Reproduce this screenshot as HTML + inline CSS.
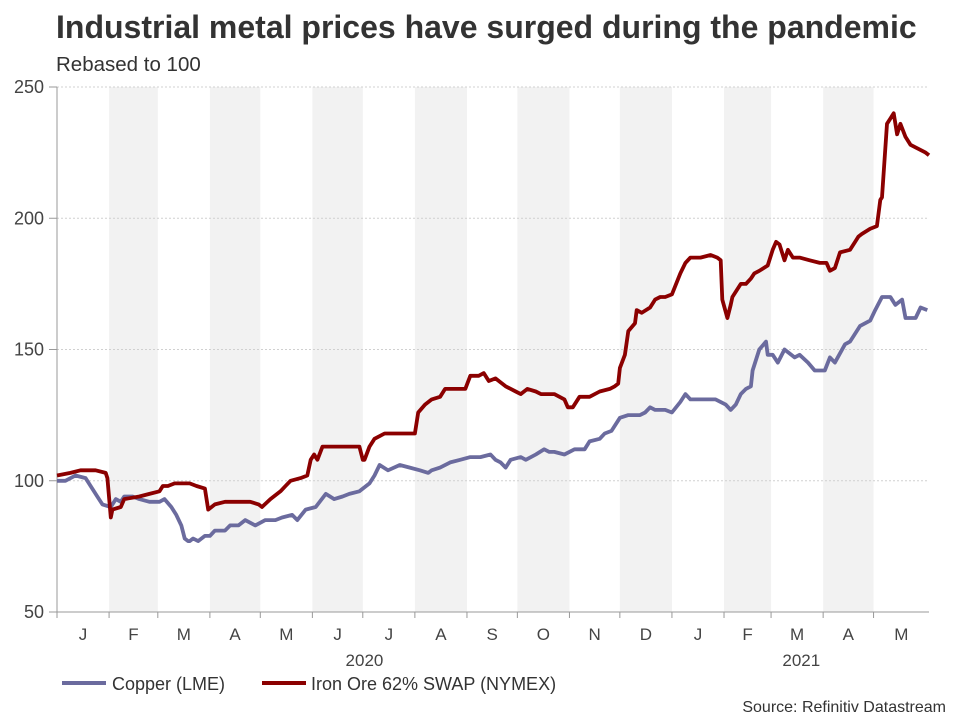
<!DOCTYPE html>
<html><head><meta charset="utf-8"><style>
body{margin:0;background:#fff;font-family:"Liberation Sans",Arial,sans-serif;}
svg text{font-family:"Liberation Sans",Arial,sans-serif;}
</style></head><body>
<svg id="chart" width="960" height="720" viewBox="0 0 960 720" xmlns="http://www.w3.org/2000/svg">
<text x="56" y="38" font-size="32" font-weight="bold" fill="#333">Industrial metal prices have surged during the pandemic</text>
<text x="56" y="71" font-size="20.5" fill="#333">Rebased to 100</text>
<g id="bands"></g><g id="grid"></g><g id="axes"></g><g id="series"></g>
<g>
<line x1="62" y1="683" x2="106" y2="683" stroke="#6b6b9e" stroke-width="4"/>
<text x="112" y="690" font-size="18" fill="#333">Copper (LME)</text>
<line x1="262" y1="683" x2="306" y2="683" stroke="#8b0000" stroke-width="4"/>
<text x="311" y="690" font-size="18" fill="#333">Iron Ore 62% SWAP (NYMEX)</text>
</g>
<text x="946" y="712" text-anchor="end" font-size="16" fill="#333">Source: Refinitiv Datastream</text>
</svg>
<script>
const monthLabels=["J","F","M","A","M","J","J","A","S","O","N","D","J","F","M","A","M"];
const monthStarts=[0,31,60,91,121,152,182,213,244,274,305,335,366,397,425,456,486,519];
const yTicks=[50,100,150,200,250];
const yearLabels=["2020","2021"];
const yearCenters=[183,443];
const ironDays=[0,8,14,23,29,30,32,33,38,40,49,55,61,63,66,70,76,79,83,88,90,94,100,106,115,120,122,127,133,136,139,145,149,151,153,155,158,168,177,180,182,183,186,189,195,204,213,215,219,223,228,231,237,243,246,251,254,257,261,267,273,276,280,285,288,296,302,304,307,311,317,323,329,332,334,335,338,340,344,345,348,353,356,359,362,366,371,374,377,383,389,393,395,396,399,401,402,407,410,413,415,418,423,426,428,430,433,435,438,442,448,454,458,460,463,466,472,475,477,479,484,488,490,491,494,498,500,502,505,508,511,517,519];
const ironValues=[102,103,104,104,103,101,86,89,90,93,94,95,96,98,98,99,99,99,98,97,89,91,92,92,92,91,90,93,96,98,100,101,102,108,110,108,113,113,113,113,108,108,113,116,118,118,118,126,129,131,132,135,135,135,140,140,141,138,139,136,134,133,135,134,133,133,131,128,128,132,132,134,135,136,137,143,148,157,160,165,164,166,169,170,170,171,179,183,185,185,186,185,184,169,162,167,170,175,175,177,179,180,182,188,191,190,184,188,185,185,184,183,183,180,181,187,188,191,193,194,196,197,207,208,236,240,232,236,231,228,227,225,224];
const copperDays=[0,5,11,17,20,24,27,32,35,38,40,45,49,55,61,64,68,71,74,76,78,79,81,84,88,91,94,100,103,108,112,118,124,130,134,140,143,148,154,160,165,170,174,180,186,189,192,197,204,210,216,221,223,228,234,240,246,249,252,258,261,264,267,270,276,279,285,290,293,296,302,308,314,317,323,326,330,335,340,347,350,353,356,362,366,371,374,377,380,386,392,398,401,404,407,410,413,414,418,422,423,426,429,433,439,442,447,451,457,460,463,469,472,478,484,487,491,496,499,503,505,511,514,518];
const copperValues=[100,100,102,101,98,94,91,90,93,92,94,94,93,92,92,93,90,87,83,78,77,77,78,77,79,79,81,81,83,83,85,83,85,85,86,87,85,89,90,95,93,94,95,96,99,102,106,104,106,105,104,103,104,105,107,108,109,109,109,110,108,107,105,108,109,108,110,112,111,111,110,112,112,115,116,118,119,124,125,125,126,128,127,127,126,130,133,131,131,131,131,129,127,129,133,135,136,142,150,153,148,148,145,150,147,148,145,142,142,147,145,152,153,159,161,165,170,170,167,169,162,162,166,165];
const NS="http://www.w3.org/2000/svg";
const X0=57,X1=929,Y0=612,Y1=87,D0=0,D1=519,V0=50,V1=250;
const xs=d=>X0+(d-D0)/(D1-D0)*(X1-X0);
const ys=v=>Y0-(v-V0)/(V1-V0)*(Y0-Y1);
function mk(tag,attrs,parent){const e=document.createElementNS(NS,tag);for(const k in attrs)e.setAttribute(k,attrs[k]);parent.appendChild(e);return e;}
const bands=document.getElementById('bands'),grid=document.getElementById('grid'),axes=document.getElementById('axes'),series=document.getElementById('series');
for(let i=0;i<monthLabels.length;i++){
  if(i%2===1){
    const r=mk('rect',{x:xs(monthStarts[i]),y:Y1,width:xs(monthStarts[i+1])-xs(monthStarts[i]),height:Y0-Y1,fill:'#f2f2f2'},bands);
    
    
  }
  const t=mk('text',{x:(xs(monthStarts[i])+xs(monthStarts[i+1]))/2,y:640,'text-anchor':'middle','font-size':17,fill:'#444'},axes);
  t.textContent=monthLabels[i];
  
  
  const tk=mk('line',{x1:xs(monthStarts[i]),x2:xs(monthStarts[i]),y1:Y0,y2:Y0+6,stroke:'#999'},axes);
  
  
}
for(let i=0;i<yearLabels.length;i++){
  const t=mk('text',{x:xs(yearCenters[i]),y:666,'text-anchor':'middle','font-size':17,fill:'#444'},axes);
  t.textContent=yearLabels[i];
  
  
}
for(const v of yTicks){
  const g=mk('line',{x1:X0,x2:X1,y1:ys(v),y2:ys(v),stroke:'#d0d0d0','stroke-dasharray':'2,2'},grid);
  
  
  const tk=mk('line',{x1:X0-8,x2:X0,y1:ys(v),y2:ys(v),stroke:'#999'},axes);
  
  
  const t=mk('text',{x:44,y:ys(v)+6,'text-anchor':'end','font-size':18,fill:'#444'},axes);
  t.textContent=v;
  
  
}
const xa=mk('line',{x1:X0,x2:X1,y1:Y0,y2:Y0,stroke:'#999'},axes);


const ya=mk('line',{x1:X0,x2:X0,y1:Y1,y2:Y0,stroke:'#999'},axes);


function line(days,vals){return days.map((d,i)=>(i?'L':'M')+xs(d).toFixed(1)+','+ys(vals[i]).toFixed(1)).join('');}
const pc=mk('path',{d:line(copperDays,copperValues),fill:'none',stroke:'#6b6b9e','stroke-width':3.8,'stroke-linejoin':'round'},series);


const pi=mk('path',{d:line(ironDays,ironValues),fill:'none',stroke:'#8b0000','stroke-width':3.8,'stroke-linejoin':'round'},series);


</script>
</body></html>
